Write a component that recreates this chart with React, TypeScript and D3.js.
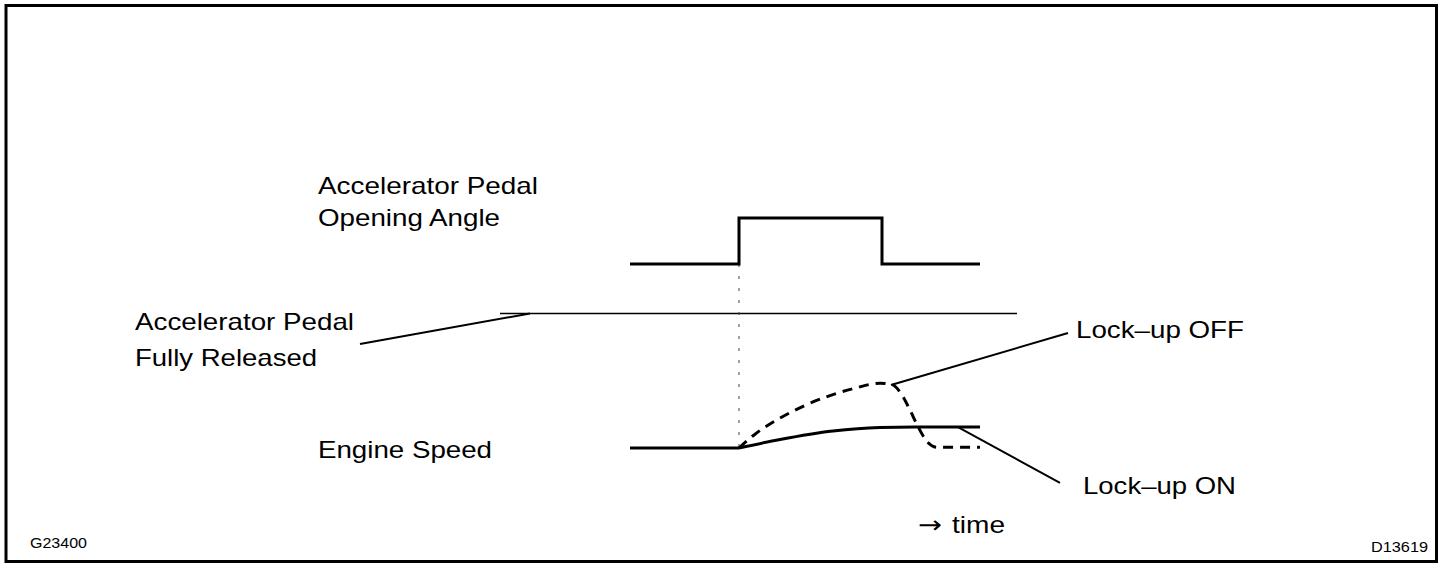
import React from 'react';
import { scaleLinear, line, curveMonotoneX } from 'd3';

// time axis in px-like units from the start of the traces, level in % of the panel
const pedalTimes = [0, 109, 109, 252, 252, 350];
const pedalLevels = [80, 80, 100, 100, 80, 80];
const releasedTimes = [-130, 387];
const releasedLevel = 58.5;
const idleTimes = [0, 109];
const lockOnTimes = [109, 150, 203, 250, 285, 350];
const lockOnLevels = [0, 3.7, 7.4, 8.9, 9.1, 9.1];
const lockOffTimes = [109, 125, 150, 175, 200, 225, 250, 262, 272, 280, 288, 297, 307, 350];
const lockOffLevels = [0, 6, 13, 18.5, 22.8, 26, 28.2, 27.6, 23, 16.5, 9.3, 2.8, 0.3, 0.3];
const markerTime = 109;
const markerLevels = [80, 0];
// leader lines: [t0, v0, t1, v1]
const releasedLeader = [-270, 45.2, -100, 58.5];
const offLeader = [261, 27.4, 438, 50];
const onLeader = [328, 9.1, 430, -15.2];

const width = 1456;
const height = 568;
const font = "'Liberation Sans', Arial, sans-serif";

const x = scaleLinear().domain([0, 350]).range([630, 980]);
const y = scaleLinear().domain([0, 100]).range([448, 218]);

const path = line<[number, number]>().x(d => x(d[0])).y(d => y(d[1]));
const smooth = line<[number, number]>().x(d => x(d[0])).y(d => y(d[1])).curve(curveMonotoneX);

const zip = (ts: number[], vs: number[]) => ts.map((t, i) => [t, vs[i]] as [number, number]);

function Label({ x, y, len, size = 24, family = font, children }: any) {
  return (
    <text x={x} y={y} fontSize={size} fontFamily={family} textLength={len} lengthAdjust="spacingAndGlyphs" fill="#000">
      {children}
    </text>
  );
}

function Leader({ d }: { d: number[] }) {
  return <line x1={x(d[0])} y1={y(d[1])} x2={x(d[2])} y2={y(d[3])} stroke="#000" strokeWidth={2} />;
}

export default function App() {
  return (
    <svg width={width} height={height} style={{ position: 'absolute', left: 0, top: 0, background: '#fff' }}>
      <rect x={6} y={5.5} width={1430.5} height={556} fill="#fff" stroke="#000" strokeWidth={3} />

      {/* released reference line */}
      <path d={path(releasedTimes.map(t => [t, releasedLevel]) as [number, number][]) || ''} stroke="#000" strokeWidth={1.5} fill="none" />

      {/* dotted time marker */}
      <line x1={x(markerTime)} x2={x(markerTime)} y1={y(markerLevels[0])} y2={y(markerLevels[1])}
        stroke="#444" strokeWidth={1} strokeDasharray="3,9" />

      {/* pedal step */}
      <path d={path(zip(pedalTimes, pedalLevels)) || ''} stroke="#000" strokeWidth={3} fill="none" />

      {/* engine speed */}
      <path d={path(idleTimes.map(t => [t, 0]) as [number, number][]) || ''} stroke="#000" strokeWidth={3} fill="none" />
      <path d={smooth(zip(lockOnTimes, lockOnLevels)) || ''} stroke="#000" strokeWidth={3} fill="none" />
      <path d={smooth(zip(lockOffTimes, lockOffLevels)) || ''} stroke="#000" strokeWidth={3} fill="none" strokeDasharray="10,7" />

      <Leader d={releasedLeader} />
      <Leader d={offLeader} />
      <Leader d={onLeader} />

      <Label x={318} y={194} len={220}>Accelerator Pedal</Label>
      <Label x={318} y={226} len={182}>Opening Angle</Label>
      <Label x={135} y={330} len={219}>Accelerator Pedal</Label>
      <Label x={135} y={366} len={182}>Fully Released</Label>
      <Label x={318} y={458} len={174}>Engine Speed</Label>
      <Label x={1076} y={338} len={168}>Lock–up OFF</Label>
      <Label x={1083} y={494} len={153}>Lock–up ON</Label>
      <Label x={918} y={533} len={24} family="'DejaVu Sans', sans-serif">→</Label>
      <Label x={952} y={533} len={53}>time</Label>
      <Label x={30} y={548} len={57} size={14}>G23400</Label>
      <Label x={1371} y={552} len={57} size={14}>D13619</Label>
    </svg>
  );
}
